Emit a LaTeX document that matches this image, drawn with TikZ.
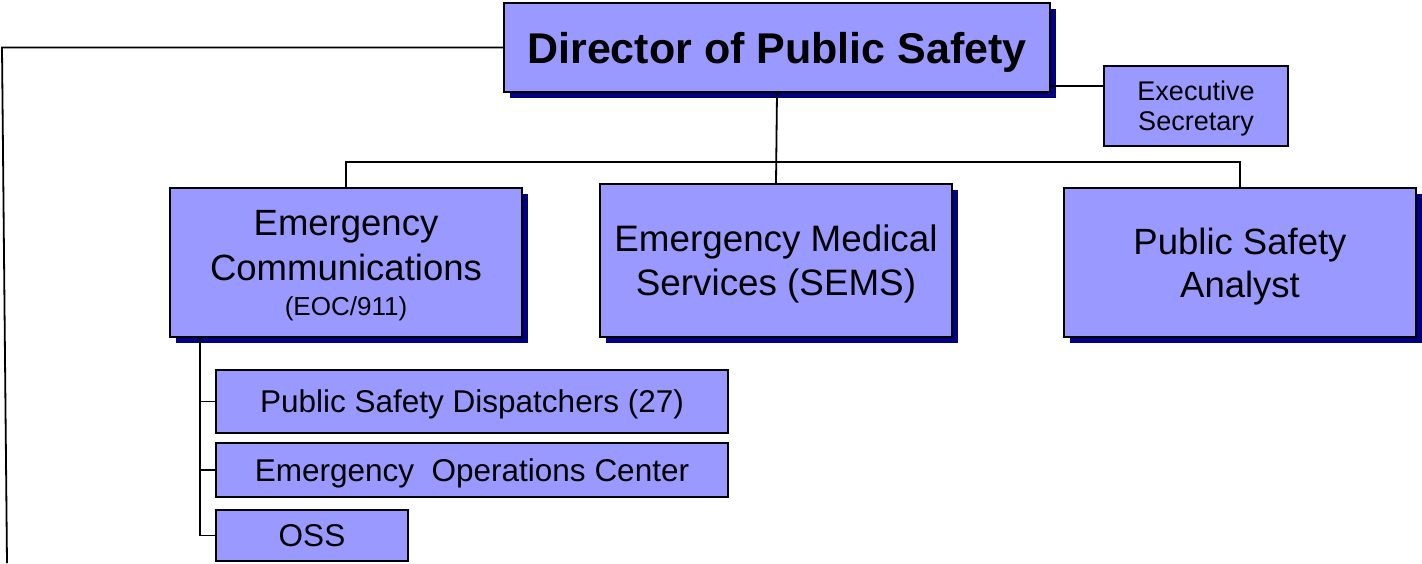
\documentclass[tikz,border=0pt]{standalone}
\usepackage{fontspec}
\setmainfont{Liberation Sans}
\usepackage{xcolor}
\usepackage{tikz}
\usetikzlibrary{shadows}

\definecolor{boxfill}{HTML}{9999FF}
\definecolor{shadowblue}{HTML}{000080}

\begin{document}
\begin{tikzpicture}[x=1pt, y=-1pt,
    unit/.style={rectangle, draw, line width=1.8pt, fill=boxfill, inner sep=0pt, text depth=-3pt, align=center},
    shadowed/.style={unit, drop shadow={shadow xshift=6pt, shadow yshift=-6pt, fill=shadowblue, opacity=1}},
    conn/.style={line width=1.8pt}
]
    \useasboundingbox (0,0) rectangle (1422,563);

    % Director
    \node[shadowed, minimum width=546pt, minimum height=89pt, font=\fontsize{43}{50}\selectfont\bfseries] (dir) at (777,47.5) {Director of Public Safety};
    \node[unit, minimum width=184pt, minimum height=80pt, font=\fontsize{27}{30}\selectfont] (sec) at (1196,106) {Executive\\Secretary};

    % Divisions
    \node[shadowed, minimum width=352pt, minimum height=149pt, font=\fontsize{36.5}{45}\selectfont] (comm) at (346,262.5) {Emergency\\Communications\\[-10pt]{\fontsize{26}{31}\selectfont(EOC/911)}};
    \node[shadowed, minimum width=352pt, minimum height=153pt, font=\fontsize{36.8}{44}\selectfont] (ems) at (776,260.5) {Emergency Medical\\Services (SEMS)};
    \node[shadowed, minimum width=352pt, minimum height=149pt, font=\fontsize{36.5}{43}\selectfont] (analyst) at (1240,262.5) {Public Safety\\Analyst};

    % Units under communications
    \node[unit, minimum width=512pt, minimum height=63pt, font=\fontsize{31.5}{36}\selectfont] (dispatch) at (472,401.5) {Public Safety Dispatchers (27)};
    \node[unit, minimum width=512pt, minimum height=54pt, font=\fontsize{31.5}{36}\selectfont] (eoc) at (472,470) {Emergency~~Operations Center};
    \node[unit, minimum width=192pt, minimum height=51pt, font=\fontsize{31.5}{36}\selectfont] (oss) at (312,535.5) {OSS};

    % Connectors
    \coordinate (bus) at (776,162);
    \coordinate (corner) at (2,47.5);
    \coordinate (edge) at (7,563);
    \draw[conn] (dir.south) -- (ems.north);
    \draw[conn] (comm.north) |- (bus) -| (analyst.north);
    \draw[conn] (dir.east |- 0,86) -- (sec.west |- 0,86);
    \draw[conn] (dir.west) -- (corner) -- (edge);
    \foreach \n in {dispatch,eoc,oss}
        \draw[conn] ([xshift=31pt]comm.south west) |- (\n.west);
\end{tikzpicture}
\end{document}
